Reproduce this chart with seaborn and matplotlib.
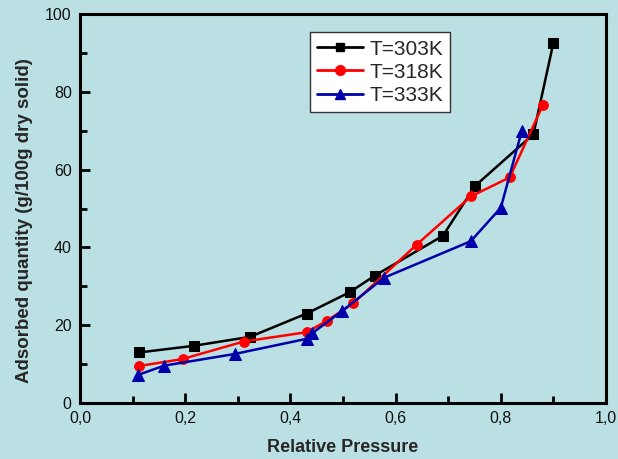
import numpy as np
import pandas as pd
import seaborn as sns
import matplotlib.pyplot as plt
from matplotlib.lines import Line2D
from matplotlib.ticker import MultipleLocator

# Data
p_303 = [0.113, 0.216, 0.323, 0.431, 0.513, 0.560, 0.690, 0.751, 0.862, 0.900]
q_303 = [13.0, 14.7, 17.0, 23.0, 28.5, 32.7, 43.0, 55.8, 69.1, 92.6]

p_318 = [0.112, 0.195, 0.311, 0.431, 0.469, 0.519, 0.640, 0.743, 0.817, 0.880]
q_318 = [9.5, 11.3, 15.8, 18.2, 21.1, 25.6, 40.7, 53.1, 58.0, 76.6]

p_333 = [0.110, 0.160, 0.294, 0.431, 0.441, 0.499, 0.578, 0.743, 0.800, 0.840]
q_333 = [7.2, 9.6, 12.6, 16.5, 17.9, 23.7, 32.2, 41.6, 50.2, 70.0]

labels = ["T=303K", "T=318K", "T=333K"]
x_ticks = [0.0, 0.2, 0.4, 0.6, 0.8, 1.0]
x_tick_labels = ["0,0", "0,2", "0,4", "0,6", "0,8", "1,0"]
y_ticks = [0, 20, 40, 60, 80, 100]

bg = "#BBE0E3"
c_303, c_318, c_333 = "black", "#FF0000", "#0000AA"

sns.set_theme(style="ticks")
plt.rcParams['font.family'] = ['Liberation Sans', 'DejaVu Sans']

fig = plt.figure(figsize=(6.18, 4.59), dpi=100, facecolor=bg)
ax = fig.add_axes([0.1294, 0.122, 0.8512, 0.8475])
ax.set_facecolor(bg)

# one line per temperature
sns.lineplot(x=p_303, y=q_303, color=c_303, lw=1.8, marker="s", markersize=7,
             markeredgecolor=c_303, sort=False, ax=ax)
sns.lineplot(x=p_318, y=q_318, color=c_318, lw=1.8, marker="o", markersize=7,
             markeredgecolor=c_318, sort=False, ax=ax)
sns.lineplot(x=p_333, y=q_333, color=c_333, lw=1.8, marker="^", markersize=8,
             markeredgecolor=c_333, sort=False, ax=ax)

ax.set_xlim(0, 1.0)
ax.set_ylim(0, 100)
ax.set_xticks(x_ticks)
ax.set_xticklabels(x_tick_labels)
ax.set_yticks(y_ticks)
ax.xaxis.set_minor_locator(MultipleLocator(0.1))
ax.yaxis.set_minor_locator(MultipleLocator(10))
ax.tick_params(which="both", direction="in", top=False, right=False,
               width=2, colors="black", labelsize=11.5, labelcolor="#111111")
ax.tick_params(which="major", length=7, pad=6)
ax.tick_params(which="minor", length=5)
for s in ax.spines.values():
    s.set_visible(True)
    s.set_linewidth(2.2)
    s.set_color("black")

ax.set_xlabel("Relative Pressure", fontsize=13, fontweight="bold", labelpad=9)
ax.set_ylabel("Adsorbed quantity (g/100g dry solid)", fontsize=13.5,
              fontweight="bold")
ax.yaxis.set_label_coords(-0.09, 0.468)

handles = [
    Line2D([], [], color=c_303, lw=2, marker="s", markersize=6),
    Line2D([], [], color=c_318, lw=2, marker="o", markersize=7),
    Line2D([], [], color=c_333, lw=2, marker="^", markersize=7),
]
leg = ax.legend(handles, labels, loc="upper left", bbox_to_anchor=(0.437, 0.953),
                fontsize=15, frameon=True, fancybox=False, framealpha=1,
                edgecolor="#333333", handlelength=2.2, labelspacing=0.2,
                handletextpad=0.3, borderpad=0.35, borderaxespad=0)
leg.get_frame().set_linewidth(1.0)

fig.savefig("out.png", dpi=100, facecolor=bg)
